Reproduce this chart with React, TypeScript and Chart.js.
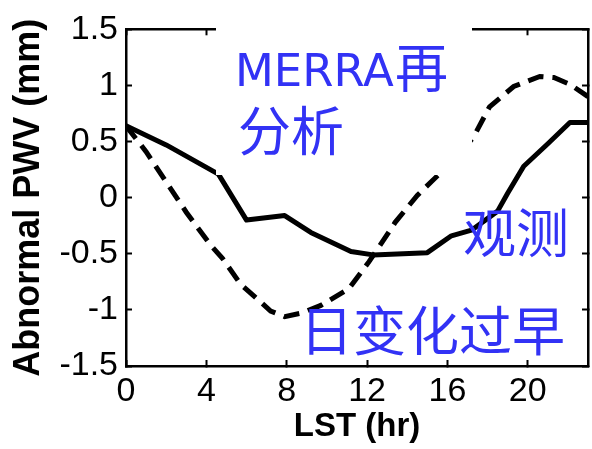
import React, { useEffect, useRef } from "react";
import { Chart, registerables } from "chart.js";

Chart.register(...registerables);

// Observed (solid) abnormal PWV vs local solar time
const OBS_HOURS = [0, 2, 4.6, 6.0, 7.9, 9.2, 11.2, 12.3, 15.0, 16.2, 17.2, 18.5, 19.0, 19.8, 21.0, 22.1, 23];
const OBS_PWV = [0.64, 0.47, 0.21, -0.2, -0.16, -0.31, -0.48, -0.51, -0.49, -0.34, -0.29, -0.12, 0.04, 0.28, 0.48, 0.67, 0.67];

// MERRA reanalysis (dashed)
const MERRA_HOURS = [0, 1, 3, 4.2, 4.8, 5.7, 7.2, 7.9, 8.7, 9.7, 11.1, 12.1, 13.0, 13.4, 14.5, 15.3, 16.3, 17.3, 18.1, 19.3, 20.6, 21.3, 22.1, 23];
const MERRA_PWV = [0.64, 0.41, -0.13, -0.42, -0.54, -0.77, -1.01, -1.06, -1.03, -0.96, -0.81, -0.57, -0.33, -0.22, 0.02, 0.16, 0.33, 0.54, 0.81, 0.99, 1.08, 1.07, 1.01, 0.9];

const X_TICKS = [0, 4, 8, 12, 16, 20];
const Y_TICKS = [-1.5, -1, -0.5, 0, 0.5, 1, 1.5];
const Y_TICK_LABELS = ["-1.5", "-1", "-0.5", "0", "0.5", "1", "1.5"];

const X_TITLE = "LST (hr)";
const Y_TITLE = "Abnormal PWV (mm)";
const NOTE_MERRA_1 = "MERRA";
const NOTE_MERRA_2 = "再";
const NOTE_MERRA_3 = "分析";
const NOTE_OBS = "观测";
const NOTE_EARLY = "日变化过早";

const BLUE = "rgb(50,50,245)";
const CJK = "53px 'Noto Sans CJK SC'";
const LATIN = "45px 'DejaVu Sans'";

const notesPlugin = {
  id: "notes",
  afterDraw(chart: any) {
    const ctx = chart.ctx;
    ctx.save();
    // white background of the upper label
    ctx.fillStyle = "#fff";
    ctx.fillRect(216, 0, 256, 175);
    ctx.fillStyle = BLUE;
    ctx.textAlign = "left";
    ctx.textBaseline = "alphabetic";
    ctx.font = LATIN;
    ctx.fillText(NOTE_MERRA_1, 235, 86);
    ctx.font = CJK;
    ctx.fillText(NOTE_MERRA_2, 395, 88);
    ctx.fillText(NOTE_MERRA_3, 238, 151);
    ctx.fillText(NOTE_OBS, 463, 253);
    ctx.fillText(NOTE_EARLY, 300, 351);
    ctx.restore();
  },
};

const frameGrid = {
  display: true,
  drawOnChartArea: false,
  drawTicks: true,
  tickLength: -6,
  tickWidth: 2,
  tickColor: "#000",
  color: "#000",
};
const frameBorder = { display: true, color: "#000", width: 2.5 };

export default function App() {
  const ref = useRef<HTMLCanvasElement | null>(null);
  useEffect(() => {
    if (!ref.current) return;
    const chart = new Chart(ref.current, {
      type: "line",
      data: {
        datasets: [
          {
            label: "obs",
            data: OBS_HOURS.map((h, i) => ({ x: h, y: OBS_PWV[i] })),
            borderColor: "#000",
            borderWidth: 5,
            pointRadius: 0,
            tension: 0,
            fill: false,
            borderJoinStyle: "round",
          },
          {
            label: "merra",
            data: MERRA_HOURS.map((h, i) => ({ x: h, y: MERRA_PWV[i] })),
            borderColor: "#000",
            borderWidth: 5,
            borderDash: [16, 9],
            pointRadius: 0,
            tension: 0,
            fill: false,
          },
        ],
      },
      options: {
        animation: false,
        responsive: true,
        maintainAspectRatio: false,
        layout: { padding: { top: 24, right: 4, left: 0, bottom: 0 } },
        plugins: { legend: { display: false }, tooltip: { enabled: false } },
        scales: {
          x: {
            type: "linear",
            position: "bottom",
            min: 0,
            max: 23,
            grid: frameGrid,
            border: frameBorder,
            afterBuildTicks: (s: any) => {
              s.ticks = X_TICKS.map((v) => ({ value: v }));
            },
            afterFit: (s: any) => {
              s.height = 83;
            },
            ticks: {
              color: "#000",
              padding: 11,
              maxRotation: 0,
              autoSkip: false,
              font: { family: "'Liberation Sans'", size: 34, lineHeight: 1.2 },
              callback: (v: any) => String(v),
            },
            title: {
              display: true,
              text: X_TITLE,
              color: "#000",
              font: { family: "'Liberation Sans'", size: 33, weight: "bold", lineHeight: 1 },
              padding: { top: 0, bottom: 6 },
            },
          },
          x2: {
            type: "linear",
            position: "top",
            min: 0,
            max: 23,
            grid: frameGrid,
            border: frameBorder,
            afterBuildTicks: (s: any) => {
              s.ticks = X_TICKS.map((v) => ({ value: v }));
            },
            afterFit: (s: any) => {
              s.height = 0;
            },
            ticks: { display: false },
          },
          y: {
            type: "linear",
            position: "left",
            min: -1.5,
            max: 1.5,
            grid: frameGrid,
            border: frameBorder,
            afterBuildTicks: (s: any) => {
              s.ticks = Y_TICKS.map((v) => ({ value: v }));
            },
            afterFit: (s: any) => {
              s.width = 126;
            },
            ticks: {
              color: "#000",
              padding: 14,
              autoSkip: false,
              font: { family: "'Liberation Sans'", size: 34, lineHeight: 0.9 },
              callback: (v: any) => {
                const i = Y_TICKS.indexOf(Number(v));
                return i >= 0 ? Y_TICK_LABELS[i] : "";
              },
            },
            title: {
              display: true,
              text: Y_TITLE,
              color: "#000",
              font: { family: "'Liberation Sans'", size: 36, weight: "bold", lineHeight: 1 },
              padding: { top: 11, bottom: 0 },
            },
          },
          y2: {
            type: "linear",
            position: "right",
            min: -1.5,
            max: 1.5,
            grid: frameGrid,
            border: frameBorder,
            afterBuildTicks: (s: any) => {
              s.ticks = Y_TICKS.map((v) => ({ value: v }));
            },
            afterFit: (s: any) => {
              s.width = 0;
            },
            ticks: { display: false },
          },
        },
      },
      plugins: [notesPlugin],
    });
    return () => chart.destroy();
  }, []);
  return (
    <div style={{ position: "absolute", left: 0, top: 0, width: 592, height: 449 }}>
      <canvas ref={ref} />
    </div>
  );
}
